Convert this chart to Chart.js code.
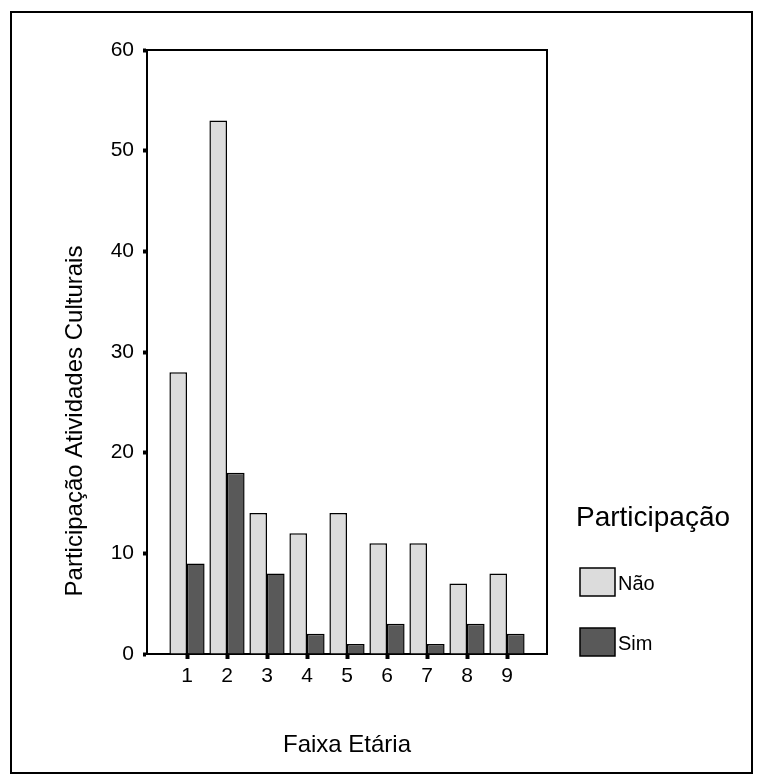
<!DOCTYPE html>
<html lang="pt">
<head>
<meta charset="utf-8">
<title>Participação Atividades Culturais por Faixa Etária</title>
<script src="https://cdn.jsdelivr.net/npm/chart.js@4.4.1/dist/chart.umd.min.js"></script>
<style>
    html, body { margin: 0; padding: 0; background: #fff; }
    #wrap { position: relative; width: 761px; height: 784px; }
</style>
</head>
<body>
<div id="wrap"><canvas id="chart"></canvas></div>
<script>
// Data
const faixas = [1, 2, 3, 4, 5, 6, 7, 8, 9];
const naoValues = [28, 53, 14, 12, 14, 11, 11, 7, 8];
const simValues = [9, 18, 8, 2, 1, 3, 1, 3, 2];
const seriesLabels = ['Não', 'Sim'];
const yTicks = [0, 10, 20, 30, 40, 50, 60];

const xTitle = 'Faixa Etária';
const yTitle = 'Participação Atividades Culturais';
const legendTitle = 'Participação';

const FONT = "'Liberation Sans', Arial, sans-serif";

// Chart area box in the reference (pixels)
const AREA = { left: 147, top: 50, right: 547, bottom: 654 };

// Frame, titles and legend drawn around the chart area
const decorPlugin = {
    id: 'decor',
    afterDraw(chart) {
        const ctx = chart.ctx;
        const ca = chart.chartArea;
        ctx.save();
        ctx.strokeStyle = '#000';
        ctx.lineWidth = 2;

        // outer frame
        ctx.strokeRect(11, 12, 741, 761);

        // top and right of the plot box
        ctx.beginPath();
        ctx.moveTo(ca.left, ca.top);
        ctx.lineTo(ca.right, ca.top);
        ctx.lineTo(ca.right, ca.bottom);
        ctx.stroke();

        ctx.fillStyle = '#000';

        // x title
        ctx.font = `24px ${FONT}`;
        ctx.textAlign = 'center';
        ctx.textBaseline = 'middle';
        ctx.fillText(xTitle, (ca.left + ca.right) / 2, 745);

        // y title
        ctx.save();
        ctx.translate(75, 421);
        ctx.rotate(-Math.PI / 2);
        ctx.font = `24px ${FONT}`;
        ctx.fillText(yTitle, 0, 0);
        ctx.restore();

        // legend
        const lx = ca.right + 33;
        ctx.textAlign = 'left';
        ctx.textBaseline = 'alphabetic';
        ctx.font = `28px ${FONT}`;
        ctx.fillText(legendTitle, ca.right + 29, 526);

        ctx.font = `20px ${FONT}`;
        ctx.textBaseline = 'middle';
        ctx.lineWidth = 1.5;
        chart.data.datasets.forEach((ds, i) => {
            const by = 568 + i * 60;
            ctx.fillStyle = ds.backgroundColor;
            ctx.fillRect(lx, by, 35, 28);
            ctx.strokeRect(lx, by, 35, 28);
            ctx.fillStyle = '#000';
            ctx.fillText(ds.label, lx + 38, by + 16);
        });
        ctx.restore();
    }
};

const toPoints = vals => faixas.map((f, i) => ({ x: f, y: vals[i] }));

new Chart(document.getElementById('chart'), {
    type: 'bar',
    data: {
        datasets: [
            {
                label: seriesLabels[0],
                data: toPoints(naoValues),
                backgroundColor: '#dcdcdc',
                borderColor: '#000',
                borderWidth: 1.5,
                categoryPercentage: 0.88,
                barPercentage: 1.0
            },
            {
                label: seriesLabels[1],
                data: toPoints(simValues),
                backgroundColor: '#595959',
                borderColor: '#000',
                borderWidth: 1.5,
                categoryPercentage: 0.88,
                barPercentage: 1.0
            }
        ]
    },
    options: {
        responsive: true,
        maintainAspectRatio: false,
        devicePixelRatio: 1,
        animation: false,
        layout: {
            padding: { top: AREA.top, right: 761 - AREA.right, left: 0, bottom: 0 }
        },
        plugins: {
            legend: { display: false },
            tooltip: { enabled: false }
        },
        scales: {
            x: {
                type: 'linear',
                min: 0,
                max: 10,
                offset: false,
                afterFit: scale => { scale.height = 784 - AREA.bottom; },
                afterBuildTicks: scale => { scale.ticks = faixas.map(v => ({ value: v })); },
                border: { display: true, color: '#000', width: 2 },
                grid: {
                    offset: false,
                    drawOnChartArea: false,
                    drawTicks: true,
                    tickLength: 5,
                    tickWidth: 4,
                    tickColor: '#000'
                },
                ticks: {
                    color: '#000',
                    padding: 5,
                    maxRotation: 0,
                    font: { size: 21, family: FONT }
                }
            },
            y: {
                min: 0,
                max: 60,
                afterFit: scale => { scale.width = AREA.left; },
                afterBuildTicks: scale => { scale.ticks = yTicks.map(v => ({ value: v })); },
                border: { display: true, color: '#000', width: 2 },
                grid: {
                    drawOnChartArea: false,
                    drawTicks: true,
                    tickLength: 4,
                    tickWidth: 4,
                    tickColor: '#000'
                },
                ticks: {
                    color: '#000',
                    padding: 9,
                    font: { size: 21, family: FONT }
                }
            }
        }
    },
    plugins: [decorPlugin]
});
</script>
</body>
</html>
